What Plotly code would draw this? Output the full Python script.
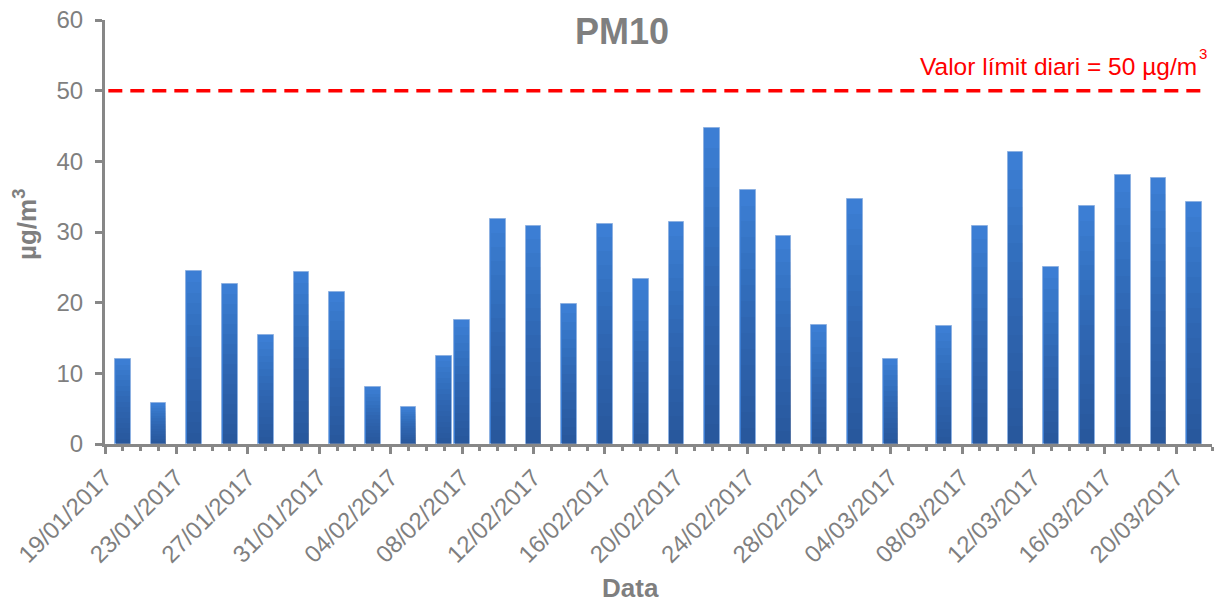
import plotly.graph_objects as go

# ---- data ----
dates = ["2017-01-20", "2017-01-22", "2017-01-24", "2017-01-26", "2017-01-28",
         "2017-01-30", "2017-02-01", "2017-02-03", "2017-02-05", "2017-02-07",
         "2017-02-08", "2017-02-10", "2017-02-12", "2017-02-14", "2017-02-16",
         "2017-02-18", "2017-02-20", "2017-02-22", "2017-02-24", "2017-02-26",
         "2017-02-28", "2017-03-02", "2017-03-04", "2017-03-07", "2017-03-09",
         "2017-03-11", "2017-03-13", "2017-03-15", "2017-03-17", "2017-03-19",
         "2017-03-21"]
pm10 = [12.0, 5.8, 24.5, 22.7, 15.4,
        24.3, 21.5, 8.1, 5.2, 12.5,
        17.6, 31.8, 30.9, 19.8, 31.2,
        23.3, 31.4, 44.7, 36.0, 29.5,
        16.9, 34.7, 12.0, 16.7, 30.9,
        41.3, 25.0, 33.7, 38.1, 37.7,
        34.3]
limit_value = 50
y_ticks = [0, 10, 20, 30, 40, 50, 60]

title_text = "PM10"
x_title = "Data"
y_title = "µg/m<sup>3</sup>"
limit_label = "Valor límit diari = 50 µg/m"
limit_label_sup = "3"

# ---- styles ----
FONT = "Liberation Sans, Arial, sans-serif"
GRAY = "#7f7f7f"
AXIS = "#878787"
DAY = 86400000
bar_w = 0.88 * DAY

fig = go.Figure()

# base bar (light top colour)
fig.add_trace(go.Bar(
    x=dates, y=pm10, width=bar_w,
    marker=dict(color="rgb(60,126,212)",
                line=dict(color="rgba(140,175,225,0.9)", width=1)),
    showlegend=False, hoverinfo="x+y",
))
# darkening layers to imitate the vertical gradient
N = 16
for j in range(1, N):
    frac = 1 - j / N
    fig.add_trace(go.Bar(
        x=dates, y=[v * frac for v in pm10], width=bar_w - 2 * 3600000,
        marker=dict(color="rgba(20,45,90,0.04)", line=dict(width=0)),
        showlegend=False, hoverinfo="skip",
    ))

# limit line
fig.add_shape(type="line", xref="paper", x0=0.003, x1=0.996,
              yref="y", y0=limit_value, y1=limit_value,
              line=dict(color="#ff0000", width=3.5, dash="14px,8px"))

L, R, T, B = 105, 3, 20, 162
W, H = 1215, 606
pw, ph = W - L - R, H - T - B


def px(x):
    return (x - L) / pw


def py(y):
    return (H - B - y) / ph


fig.update_layout(
    width=W, height=H,
    margin=dict(l=L, r=R, t=T, b=B),
    paper_bgcolor="white", plot_bgcolor="white",
    barmode="overlay", bargap=0,
    font=dict(family=FONT, color=GRAY),
    showlegend=False,
    xaxis=dict(
        type="date",
        range=["2017-01-19", "2017-03-22"],
        tick0="2017-01-19", dtick=4 * DAY,
        tickformat="%d/%m/%Y", tickangle=-45,
        tickfont=dict(family=FONT, size=24, color=GRAY),
        showline=True, linecolor=AXIS, linewidth=3,
        ticks="outside", ticklen=7, tickwidth=3, tickcolor=AXIS,
        minor=dict(dtick=DAY, tick0="2017-01-19", ticks="outside",
                   ticklen=4, tickwidth=3, tickcolor=AXIS, showgrid=False),
        showgrid=False, zeroline=False, fixedrange=True,
    ),
    yaxis=dict(
        range=[0, 60], tickvals=y_ticks,
        tickfont=dict(family=FONT, size=24, color=GRAY),
        showline=True, linecolor=AXIS, linewidth=3,
        ticks="outside", ticklen=7, tickwidth=3, tickcolor=AXIS,
        ticklabelstandoff=7,
        showgrid=False, zeroline=False, fixedrange=True,
    ),
    annotations=[
        dict(text="<b>" + title_text + "</b>", xref="paper", yref="paper",
             x=px(622), y=py(32), xanchor="center", yanchor="middle",
             showarrow=False, font=dict(family=FONT, size=36, color=GRAY)),
        dict(text="<b>" + x_title + "</b>", xref="paper", yref="paper",
             x=px(630), y=py(588), xanchor="center", yanchor="middle",
             showarrow=False, font=dict(family=FONT, size=26, color=GRAY)),
        dict(text="<b>" + y_title + "</b>", xref="paper", yref="paper",
             x=px(25), y=py(225), xanchor="center", yanchor="middle",
             textangle=-90,
             showarrow=False, font=dict(family=FONT, size=26, color=GRAY)),
        dict(text=limit_label, xref="paper", yref="paper",
             x=px(1199), y=py(82), xanchor="right", yanchor="bottom",
             showarrow=False, font=dict(family=FONT, size=24.5, color="#ff0000")),
        dict(text=limit_label_sup, xref="paper", yref="paper",
             x=px(1197), y=py(53.5), xanchor="left", yanchor="middle",
             showarrow=False, font=dict(family=FONT, size=15, color="#ff0000")),
    ],
)

fig.write_html("out.html",
               config={"displayModeBar": False},
               post_script="document.body.style.margin='0';"
                           "document.body.style.overflow='hidden';")
